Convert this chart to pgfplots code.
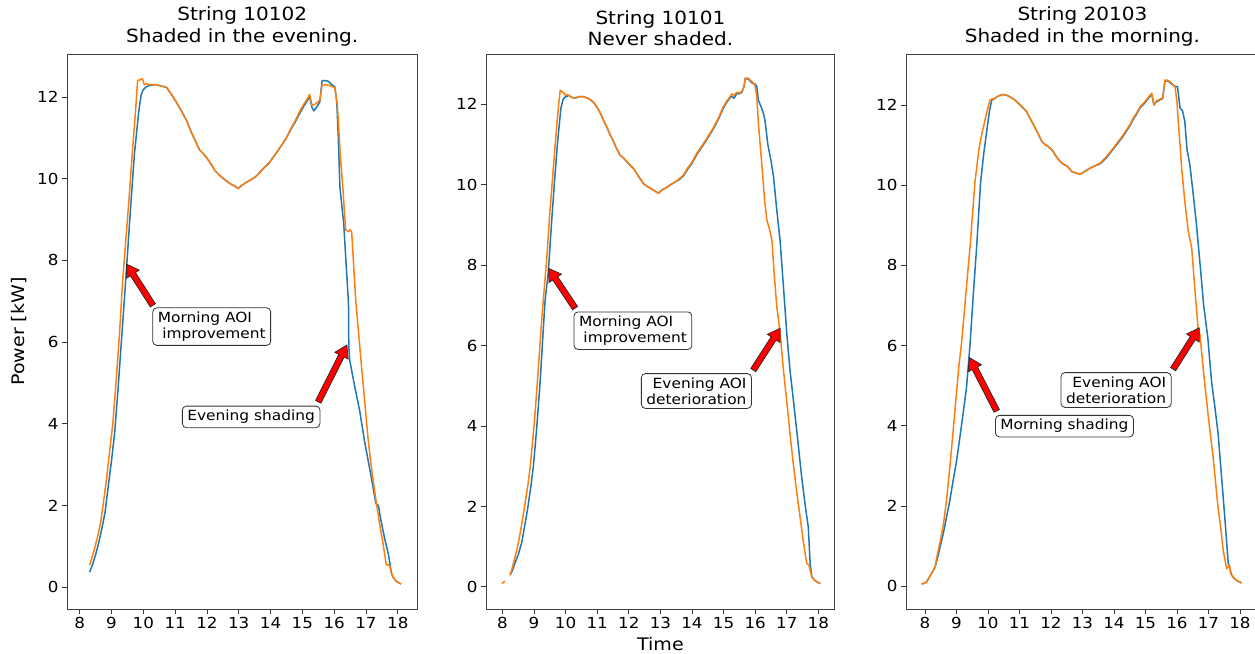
\documentclass[border=0pt]{standalone}
\usepackage{fontspec}
\setmainfont[FakeStretch=1.1]{DejaVu Sans}
\usepackage{pgfplots}
\pgfplotsset{compat=1.18}
\usetikzlibrary{calc}
\definecolor{mblue}{HTML}{1F77B4}
\definecolor{morange}{HTML}{FF7F0E}
\pgfplotsset{
 panel/.style={scale only axis, height=555pt, anchor=south west,
  xtick={8,9,...,18}, ytick={0,2,...,12},
  tick align=outside, tick pos=left, major tick length=5pt,
  every tick/.style={black!80, line width=0.8pt},
  axis line style={black!75, line width=0.8pt},
  /pgf/number format/assume math mode=true,
  ticklabel style={font=\fontsize{15.2}{18}\selectfont},
  title style={font=\fontsize{18.2}{21.5}\selectfont, align=center, at={(0.5,1)}, anchor=south, inner sep=0pt, yshift=2pt},
  label style={font=\fontsize{17.3}{20}\selectfont},
  unbounded coords=jump,
  every axis plot/.append style={line width=1.5pt, line join=round},
 },
 bl/.style={color=mblue, no marks},
 or/.style={color=morange, no marks},
}
\tikzset{annot/.style={draw=black!80, fill=white, rounded corners=4pt, line width=0.8pt, inner xsep=5pt, inner ysep=4pt, font=\fontsize{14}{16}\selectfont}}
\newcommand{\fatarrow}[2]{%
 \draw[black!85, line width=0.7pt, fill=red, line join=miter]
 let \p1=(#1), \p2=(#2), \n1={atan2(\y2-\y1,\x2-\x1)}, \n2={veclen(\x2-\x1,\y2-\y1)-12pt} in
 ($(\p1)+(\n1+90:3pt)$) -- ($(\p1)+(\n1:\n2)+(\n1+90:3pt)$) -- ($(\p1)+(\n1:\n2)+(\n1+90:7.5pt)$) -- (\p2) -- ($(\p1)+(\n1:\n2)+(\n1-90:7.5pt)$) -- ($(\p1)+(\n1:\n2)+(\n1-90:3pt)$) -- ($(\p1)+(\n1-90:3pt)$) -- cycle;}
\begin{document}
\begin{tikzpicture}
\useasboundingbox (0,0) rectangle (1255pt,653pt);
% ---------------- Panel 1 ----------------
\begin{axis}[panel, at={(67pt,44pt)}, width=350.5pt,
  xmin=7.6, xmax=18.62, ymin=-0.53, ymax=13.05,
  title={String 10102\\Shaded in the evening.},
  ylabel={Power [kW]},
  ylabel style={at={(axis description cs:-0.138,0.5)}, anchor=center}]
\addplot[bl] coordinates {(8.31,0.37)(8.4,0.55)(8.5,0.8)(8.6,1.1)(8.7,1.45)(8.8,1.85)(8.9,2.5)(9.0,3.1)(9.1,3.8)(9.2,4.8)(9.3,5.9)(9.4,7.0)(9.48,7.9)(9.6,9.3)(9.72,10.6)(9.85,11.6)(9.93,12.05)(10.0,12.18)(10.1,12.25)
(10.2,12.28)(10.35,12.3)(10.5,12.28)(10.65,12.25)(10.73,12.23)(10.85,12.1)(10.95,11.98)(11.04,11.87)(11.2,11.65)(11.36,11.42)(11.5,11.15)(11.65,10.9)(11.77,10.7)(11.9,10.6)(12.02,10.48)(12.15,10.33)(12.25,10.2)(12.4,10.08)(12.55,9.98)(12.72,9.88)(12.85,9.83)(12.98,9.76)(13.1,9.84)(13.24,9.91)(13.4,9.98)(13.55,10.06)(13.66,10.15)(13.8,10.27)(13.95,10.38)(14.08,10.52)(14.2,10.65)(14.35,10.82)(14.5,11.0)(14.62,11.18)(14.75,11.35)(14.92,11.6)(15.05,11.78)(15.15,11.9)(15.23,12.0)
(15.3,11.75)(15.36,11.66)(15.45,11.75)(15.55,11.88)(15.62,12.4)(15.72,12.4)(15.82,12.38)(15.92,12.3)(16.02,12.25)(16.08,11.9)(16.13,11.0)(16.18,9.8)(16.3,8.9)(16.4,7.6)(16.45,6.95)(16.46,5.9)(16.49,5.55)(16.65,4.9)(16.8,4.33)(16.95,3.6)(17.07,3.1)(17.2,2.55)(17.31,2.05)(17.39,2.0)(17.48,1.6)(17.6,1.15)(17.7,0.83)(17.75,0.59)(17.8,0.35)(17.85,0.25)(17.95,0.15)(18.1,0.08)};
\addplot[or] coordinates {(8.31,0.54)(8.45,0.9)(8.55,1.2)(8.65,1.55)(8.75,2.1)(8.85,2.7)(8.95,3.4)(9.04,4.0)(9.15,5.1)(9.25,6.2)(9.35,7.5)(9.45,8.5)(9.55,9.5)(9.65,10.6)(9.75,11.6)(9.82,12.4)(9.9,12.42)(9.97,12.45)(10.03,12.3)(10.1,12.32)
(10.2,12.3)(10.35,12.3)(10.5,12.28)(10.65,12.25)(10.73,12.23)(10.85,12.1)(10.95,11.98)(11.04,11.87)(11.2,11.65)(11.36,11.42)(11.5,11.15)(11.65,10.9)(11.77,10.7)(11.9,10.6)(12.02,10.48)(12.15,10.33)(12.25,10.2)(12.4,10.08)(12.55,9.98)(12.72,9.88)(12.85,9.83)(12.98,9.76)(13.1,9.84)(13.24,9.91)(13.4,9.98)(13.55,10.06)(13.66,10.15)(13.8,10.27)(13.95,10.38)(14.08,10.52)(14.2,10.65)(14.35,10.82)(14.5,11.0)(14.62,11.2)(14.75,11.38)(14.92,11.65)(15.05,11.83)(15.15,11.95)(15.23,12.06)
(15.3,11.8)(15.4,11.82)(15.55,11.92)(15.62,12.28)(15.72,12.3)(15.85,12.28)(15.95,12.25)(16.02,12.22)(16.1,11.8)(16.2,10.5)(16.28,9.7)(16.36,8.75)(16.45,8.7)(16.5,8.75)(16.55,8.7)(16.68,7.0)(16.86,5.4)(17.07,3.6)(17.2,2.75)(17.33,2.05)(17.45,1.45)(17.52,1.15)(17.64,0.55)(17.74,0.54)(17.8,0.35)(17.85,0.25)(17.95,0.15)(18.1,0.08)};
\node[annot, align=left] at (axis cs:12.15,6.38) {Morning AOI\\\hspace*{0.32em}improvement};
\node[annot] at (axis cs:13.39,4.17) {Evening shading};
\coordinate (a1t) at (axis cs:10.3,6.9);
\coordinate (a1h) at (axis cs:9.47,7.91);
\coordinate (b1t) at (axis cs:15.5,4.54);
\coordinate (b1h) at (axis cs:16.4,5.93);
\end{axis}
% ---------------- Panel 2 ----------------
\begin{axis}[panel, at={(486pt,44pt)}, width=348.8pt,
  xmin=7.48, xmax=18.52, ymin=-0.55, ymax=13.25,
  title={String 10101\\Never shaded.},
  xlabel={Time},
  xlabel style={at={(axis description cs:0.5,-0.0739)}, anchor=base}]
\addplot[bl] coordinates {(8.24,0.29)(8.32,0.42)(8.4,0.6)(8.5,0.8)(8.61,1.1)(8.7,1.5)(8.8,1.95)(8.9,2.5)(8.98,3.0)(9.08,3.9)(9.19,5.06)(9.27,6.1)(9.35,7.13)(9.45,7.8)(9.55,9.0)(9.65,10.1)(9.75,11.1)(9.85,11.9)(9.92,12.12)(9.98,12.18)(10.05,12.2)
(10.1,12.22)(10.2,12.17)(10.3,12.15)(10.42,12.19)(10.56,12.19)(10.7,12.15)(10.8,12.1)(10.88,12.05)(11.0,11.92)(11.1,11.78)(11.2,11.6)(11.3,11.44)(11.42,11.22)(11.5,11.1)(11.6,10.92)(11.72,10.74)(11.85,10.65)(11.95,10.56)(12.05,10.48)(12.15,10.4)(12.3,10.22)(12.46,10.03)(12.6,9.95)(12.75,9.88)(12.85,9.83)(12.94,9.79)(13.05,9.87)(13.2,9.93)(13.3,9.99)(13.45,10.06)(13.6,10.13)(13.73,10.22)(13.85,10.37)(14.0,10.53)(14.15,10.75)(14.3,10.92)(14.45,11.1)(14.57,11.25)(14.7,11.42)(14.85,11.65)(14.99,11.9)(15.1,12.05)(15.2,12.16)(15.27,12.2)(15.33,12.15)(15.42,12.27)(15.5,12.26)(15.58,12.3)
(15.65,12.45)(15.68,12.63)(15.78,12.63)(15.84,12.58)(15.92,12.52)(16.0,12.5)(16.05,12.45)(16.1,12.1)(16.18,11.95)(16.25,11.8)(16.31,11.6)(16.4,11.0)(16.5,10.6)(16.58,10.2)(16.68,9.4)(16.79,8.6)(16.9,7.4)(17.0,6.3)(17.1,5.4)(17.21,4.64)(17.34,3.7)(17.47,2.74)(17.58,2.05)(17.68,1.49)(17.74,0.58)(17.79,0.25)(17.9,0.15)(18.06,0.08)};
\addplot[or] coordinates {(7.98,0.08)(8.08,0.14)(8.15,nan)(8.24,0.29)(8.32,0.5)(8.4,0.75)(8.48,1.0)(8.56,1.33)(8.64,1.7)(8.72,2.1)(8.8,2.5)(8.88,2.99)(9.0,4.0)(9.07,4.7)(9.14,5.47)(9.22,6.4)(9.3,7.2)(9.4,8.13)(9.5,9.3)(9.6,10.3)(9.7,11.3)(9.78,12.0)(9.83,12.35)(9.9,12.3)(9.95,12.28)(10.0,12.22)(10.05,12.24)
(10.1,12.22)(10.2,12.17)(10.3,12.15)(10.42,12.19)(10.56,12.19)(10.7,12.15)(10.8,12.1)(10.88,12.05)(11.0,11.92)(11.1,11.78)(11.2,11.6)(11.3,11.44)(11.42,11.22)(11.5,11.1)(11.6,10.92)(11.72,10.74)(11.85,10.65)(11.95,10.56)(12.05,10.48)(12.15,10.4)(12.3,10.22)(12.46,10.03)(12.6,9.95)(12.75,9.88)(12.85,9.83)(12.94,9.79)(13.05,9.87)(13.2,9.93)(13.3,9.99)(13.45,10.06)(13.6,10.15)(13.73,10.24)(13.85,10.4)(14.0,10.56)(14.15,10.78)(14.3,10.95)(14.45,11.13)(14.57,11.28)(14.7,11.45)(14.85,11.68)(14.99,11.94)(15.1,12.08)(15.2,12.19)(15.27,12.26)(15.33,12.22)(15.42,12.3)(15.5,12.28)(15.58,12.32)
(15.65,12.45)(15.68,12.65)(15.78,12.65)(15.84,12.6)(15.92,12.55)(15.99,12.48)(16.05,12.2)(16.1,11.53)(16.2,10.6)(16.3,9.6)(16.37,9.12)(16.45,8.9)(16.53,8.62)(16.6,7.8)(16.68,7.0)(16.79,6.3)(16.9,5.35)(17.0,4.6)(17.1,3.82)(17.2,3.1)(17.3,2.45)(17.42,1.74)(17.52,1.15)(17.63,0.58)(17.7,0.55)(17.79,0.25)(17.9,0.15)(18.06,0.08)};
\node[annot, align=left] at (axis cs:12.13,6.37) {Morning AOI\\\hspace*{0.32em}improvement};
\node[annot, align=right] at (axis cs:14.14,4.87) {Evening AOI\\deterioration};
\coordinate (a2t) at (axis cs:10.3,6.93);
\coordinate (a2h) at (axis cs:9.46,7.92);
\coordinate (b2t) at (axis cs:15.94,5.39);
\coordinate (b2h) at (axis cs:16.79,6.43);
\end{axis}
% ---------------- Panel 3 ----------------
\begin{axis}[panel, at={(906pt,44pt)}, width=352.8pt,
  xmin=7.4, xmax=18.6, ymin=-0.57, ymax=13.27,
  title={String 20103\\Shaded in the morning.}]
\addplot[bl] coordinates {(7.9,0.05)(8.05,0.1)(8.2,0.3)(8.32,0.47)(8.4,0.7)(8.48,0.97)(8.58,1.3)(8.68,1.7)(8.79,2.13)(8.9,2.65)(9.0,3.1)(9.11,3.71)(9.22,4.35)(9.32,4.95)(9.43,6.0)(9.53,7.2)(9.64,8.43)(9.77,10.09)(9.87,10.8)(9.96,11.33)(10.05,11.85)(10.12,12.12)(10.2,12.15)
(10.28,12.2)(10.38,12.24)(10.49,12.26)(10.6,12.24)(10.7,12.2)(10.86,12.12)(10.95,12.05)(11.05,11.98)(11.15,11.9)(11.23,11.83)(11.35,11.65)(11.45,11.5)(11.55,11.35)(11.71,11.09)(11.8,11.02)(11.9,10.97)(12.0,10.9)(12.07,10.84)(12.18,10.7)(12.29,10.59)(12.4,10.52)(12.5,10.48)(12.6,10.4)(12.66,10.34)(12.8,10.3)(12.92,10.27)(13.05,10.33)(13.15,10.38)(13.24,10.42)(13.4,10.48)(13.56,10.53)(13.65,10.6)(13.75,10.67)(13.85,10.77)(13.98,10.9)(14.1,11.02)(14.2,11.12)(14.3,11.23)(14.4,11.35)(14.5,11.47)(14.6,11.62)(14.72,11.77)(14.83,11.93)(14.95,12.02)(15.05,12.12)(15.2,12.27)(15.27,12.0)(15.35,12.08)(15.45,12.12)(15.55,12.16)
(15.62,12.6)(15.7,12.6)(15.78,12.56)(15.86,12.5)(15.94,12.47)(16.02,12.45)(16.1,11.92)(16.18,11.85)(16.25,11.59)(16.32,10.9)(16.41,10.51)(16.5,9.9)(16.62,9.02)(16.75,7.9)(16.85,7.0)(16.98,6.2)(17.1,5.1)(17.2,4.5)(17.31,3.79)(17.42,2.7)(17.52,1.72)(17.63,0.56)(17.66,0.53)(17.72,0.3)(17.79,0.22)(17.9,0.14)(18.05,0.08)};
\addplot[or] coordinates {(7.9,0.05)(8.05,0.1)(8.2,0.3)(8.32,0.47)(8.4,0.8)(8.48,1.1)(8.58,1.5)(8.68,2.1)(8.79,2.96)(8.9,3.9)(9.0,4.8)(9.08,5.5)(9.17,6.11)(9.3,7.3)(9.43,8.43)(9.59,10.09)(9.72,10.92)(9.8,11.25)(9.93,11.7)(10.06,12.12)(10.15,12.15)(10.2,12.15)
(10.28,12.2)(10.38,12.24)(10.49,12.26)(10.6,12.24)(10.7,12.2)(10.86,12.12)(10.95,12.05)(11.05,11.98)(11.15,11.9)(11.23,11.83)(11.35,11.65)(11.45,11.5)(11.55,11.35)(11.71,11.09)(11.8,11.02)(11.9,10.97)(12.0,10.9)(12.07,10.84)(12.18,10.7)(12.29,10.59)(12.4,10.52)(12.5,10.48)(12.6,10.4)(12.66,10.34)(12.8,10.3)(12.92,10.27)(13.05,10.33)(13.15,10.38)(13.24,10.42)(13.4,10.48)(13.56,10.55)(13.65,10.62)(13.75,10.7)(13.85,10.8)(13.98,10.92)(14.1,11.05)(14.2,11.15)(14.3,11.26)(14.4,11.38)(14.5,11.5)(14.6,11.65)(14.72,11.8)(14.83,11.96)(14.95,12.05)(15.05,12.15)(15.2,12.29)(15.27,12.0)(15.35,12.1)(15.45,12.14)(15.55,12.18)
(15.62,12.62)(15.7,12.62)(15.78,12.58)(15.86,12.52)(15.94,12.45)(16.0,12.1)(16.05,11.5)(16.1,11.0)(16.15,10.42)(16.25,9.6)(16.36,8.85)(16.47,8.43)(16.58,7.3)(16.68,6.36)(16.73,6.28)(16.85,5.3)(17.0,4.2)(17.15,3.21)(17.3,2.0)(17.4,1.4)(17.47,0.89)(17.58,0.43)(17.66,0.53)(17.72,0.3)(17.79,0.22)(17.9,0.14)(18.05,0.08)};
\node[annot] at (axis cs:12.43,3.99) {Morning shading};
\node[annot, align=right] at (axis cs:14.07,4.89) {Evening AOI\\deterioration};
\coordinate (a3t) at (axis cs:10.28,4.37);
\coordinate (a3h) at (axis cs:9.41,5.7);
\coordinate (b3t) at (axis cs:15.88,5.41);
\coordinate (b3h) at (axis cs:16.71,6.44);
\end{axis}
\fatarrow{a1t}{a1h}
\fatarrow{b1t}{b1h}
\fatarrow{a2t}{a2h}
\fatarrow{b2t}{b2h}
\fatarrow{a3t}{a3h}
\fatarrow{b3t}{b3h}
\end{tikzpicture}
\end{document}
